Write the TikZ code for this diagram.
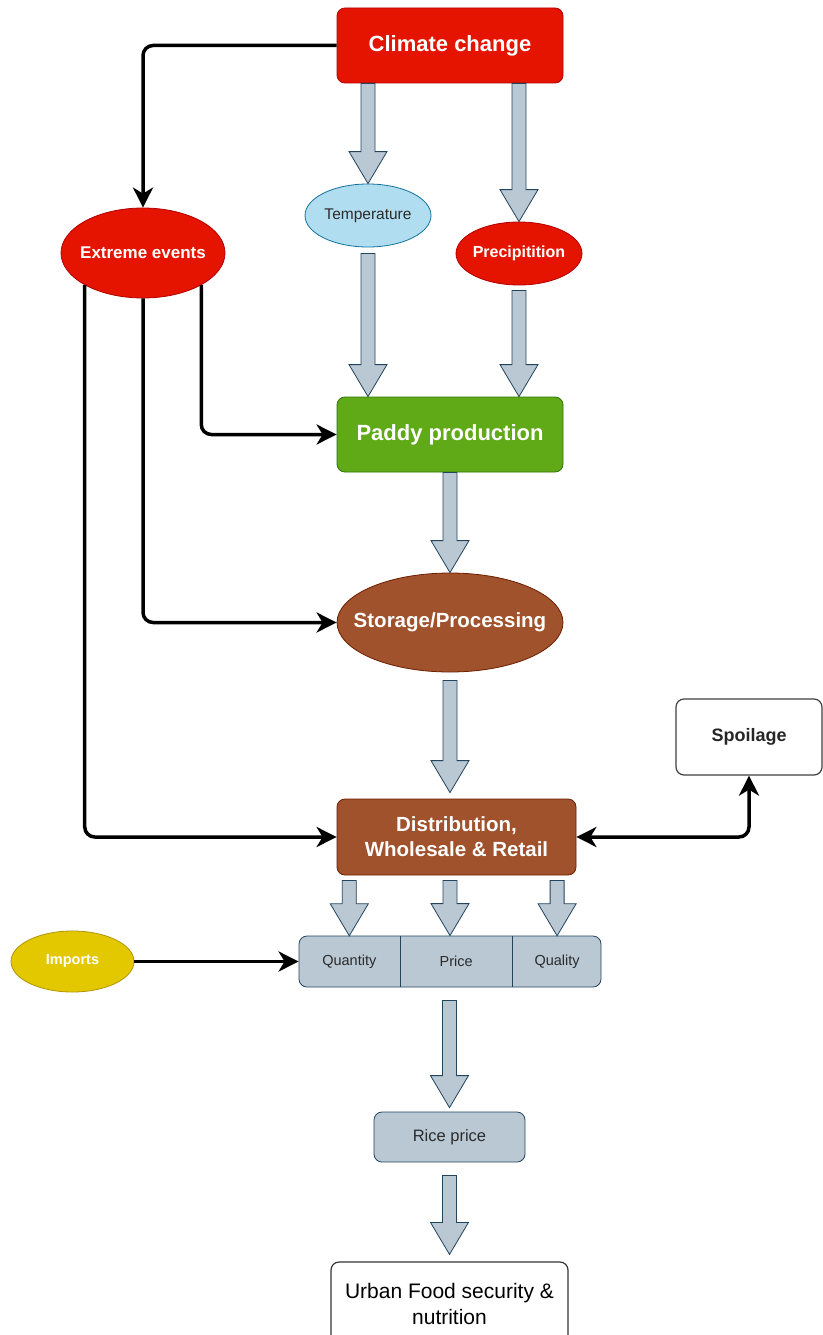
\documentclass[tikz,border=0pt]{standalone}
\usepackage{fontspec}
\setmainfont{Liberation Sans}
\usetikzlibrary{shapes.geometric,arrows.meta,calc,positioning}

\definecolor{ccred}{HTML}{E51400}
\definecolor{ccredline}{HTML}{B20000}
\definecolor{ccgreen}{HTML}{60A917}
\definecolor{ccgreenline}{HTML}{2D7600}
\definecolor{ccbrown}{HTML}{A0522D}
\definecolor{ccbrownline}{HTML}{6D1F00}
\definecolor{ccblue}{HTML}{B1DDF0}
\definecolor{ccblueline}{HTML}{10739E}
\definecolor{ccgray}{HTML}{BAC8D3}
\definecolor{ccgrayline}{HTML}{23445D}
\definecolor{ccyellow}{HTML}{E3C800}
\definecolor{ccyellowline}{HTML}{B09500}
\definecolor{cctext}{HTML}{2B2B2B}

% hollow block arrow from #1 down to the tip #2
\newcommand{\fatarrow}[2]{%
  \draw[fat] let \p1=(#1), \p2=(#2) in
    (\x1-7pt,\y1) -- (\x1-7pt,\y2+32pt) -- (\x1-19pt,\y2+32pt) -- (\x1,\y2)
    -- (\x1+19pt,\y2+32pt) -- (\x1+7pt,\y2+32pt) -- (\x1+7pt,\y1) -- cycle;}

\begin{document}
\begin{tikzpicture}[x=1pt,y=-1pt,
    >={Stealth[length=20pt,width=20pt,inset=6pt]},
    box/.style={rectangle, rounded corners=8pt, draw, line width=0.8pt, inner sep=0pt, align=center},
    oval/.style={ellipse, draw, line width=0.8pt, inner sep=0pt},
    redfill/.style={fill=ccred, draw=ccredline, text=white},
    big/.style={font=\bfseries\fontsize{22}{26}\selectfont},
    mid/.style={font=\bfseries\fontsize{17}{20}\selectfont},
    small/.style={font=\fontsize{14.5}{17}\selectfont, text=cctext},
    link/.style={line width=3.5pt, rounded corners=10pt, ->},
    fat/.style={fill=ccgray, draw=ccgrayline, line width=0.8pt, line join=miter},
    divider/.style={draw=ccgrayline, line width=0.8pt}
  ]
  \useasboundingbox (0,0) rectangle (822,1335);
  \fill[white] (0,0) rectangle (822,1335);

  % nodes
  \node[box, redfill, big, minimum width=226pt, minimum height=75pt] (clim) at (450,45.5) {Climate change};
  \node[oval, redfill, mid, minimum width=164pt, minimum height=90pt] (ext) at (143,253) {\makebox[0pt]{Extreme events}};
  \node[oval, fill=ccblue, draw=ccblueline, text=cctext, font=\fontsize{15.5}{18}\selectfont,
        minimum width=126pt, minimum height=63pt] (temp) at (368,215.5) {\makebox[0pt]{Temperature}};
  \node[oval, redfill, font=\bfseries\fontsize{16}{19}\selectfont,
        minimum width=126pt, minimum height=63pt] (prec) at (519,253.5) {\makebox[0pt]{Precipitition}};
  \node[box, fill=ccgreen, draw=ccgreenline, text=white, big,
        minimum width=226pt, minimum height=75pt] (pad) at (450,434.5) {Paddy production};
  \node[oval, fill=ccbrown, draw=ccbrownline, text=white, font=\bfseries\fontsize{20.5}{24}\selectfont,
        minimum width=226pt, minimum height=99pt] (stor) at (450,622.5) {\makebox[0pt]{Storage/Processing}};
  \node[box, fill=ccbrown, draw=ccbrownline, text=white, font=\bfseries\fontsize{20.5}{25}\selectfont,
        minimum width=239pt, minimum height=76pt] (dist) at (456.5,837) {Distribution,\\Wholesale \& Retail};
  \node[box, fill=white, draw=black!75, line width=1.2pt, font=\bfseries\fontsize{18}{21}\selectfont, text=black!85,
        minimum width=146pt, minimum height=76pt] (spoil) at (749,737) {Spoilage};
  \node[box, fill=ccgray, draw=ccgrayline, minimum width=302pt, minimum height=51pt] (bar) at (450,961.5) {};
  \node[small, minimum width=101pt, minimum height=51pt, inner sep=0pt, anchor=west] (quan) at (bar.west) {Quantity};
  \node[small, minimum width=112pt, minimum height=51pt, inner sep=0pt, right=0pt of quan] (pric) {Price};
  \node[small, minimum width=89pt, minimum height=51pt, inner sep=0pt, right=0pt of pric] (qual) {Quality};
  \node[oval, fill=ccyellow, draw=ccyellowline, text=white, font=\bfseries\fontsize{14.5}{17}\selectfont,
        minimum width=123pt, minimum height=61pt] (imp) at (72.5,961.5) {\makebox[0pt]{Imports}};
  \node[box, fill=ccgray, draw=ccgrayline, text=cctext, font=\fontsize{16.5}{19}\selectfont,
        minimum width=151pt, minimum height=50pt] (rice) at (449.5,1137) {Rice price};
  \node[box, fill=white, draw=black!80, line width=1.2pt, text=black, font=\fontsize{21}{26}\selectfont,
        minimum width=237pt, minimum height=84pt] (urban) at (449.5,1304) {Urban Food security \&\\nutrition};

  \draw[divider] (quan.north east) -- (quan.south east);
  \draw[divider] (pric.north east) -- (pric.south east);

  % black connectors
  \draw[link] (clim.west) -| (ext.north);
  \draw[link] (ext.south east) |- (pad.west);
  \draw[link] (ext.south) |- (stor.west);
  \draw[link] (ext.south west) |- (dist.west);
  \draw[link, <->] (dist.east) -| (spoil.south);
  \draw[link] (imp.east) -- (bar.west);

  % block arrows
  \fatarrow{clim.south -| temp.north}{temp.north}
  \fatarrow{clim.south -| prec.north}{prec.north}
  \fatarrow{$(temp.south)+(0,6)$}{pad.north -| temp.south}
  \fatarrow{$(prec.south)+(0,5)$}{pad.north -| prec.south}
  \fatarrow{pad.south}{stor.north}
  \fatarrow{$(stor.south)+(0,8)$}{$(dist.north -| stor.south)+(0,-6)$}
  \fatarrow{$(dist.south -| quan.center)+(0,5)$}{quan.north}
  \fatarrow{$(dist.south -| pad.south)+(0,5)$}{bar.north -| pad.south}
  \fatarrow{$(dist.south -| qual.center)+(0,5)$}{qual.north}
  \fatarrow{$(bar.south -| rice.north)+(0,13)$}{$(rice.north)+(0,-4)$}
  \fatarrow{$(rice.south)+(0,13)$}{$(urban.north)+(0,-7)$}
\end{tikzpicture}
\end{document}
